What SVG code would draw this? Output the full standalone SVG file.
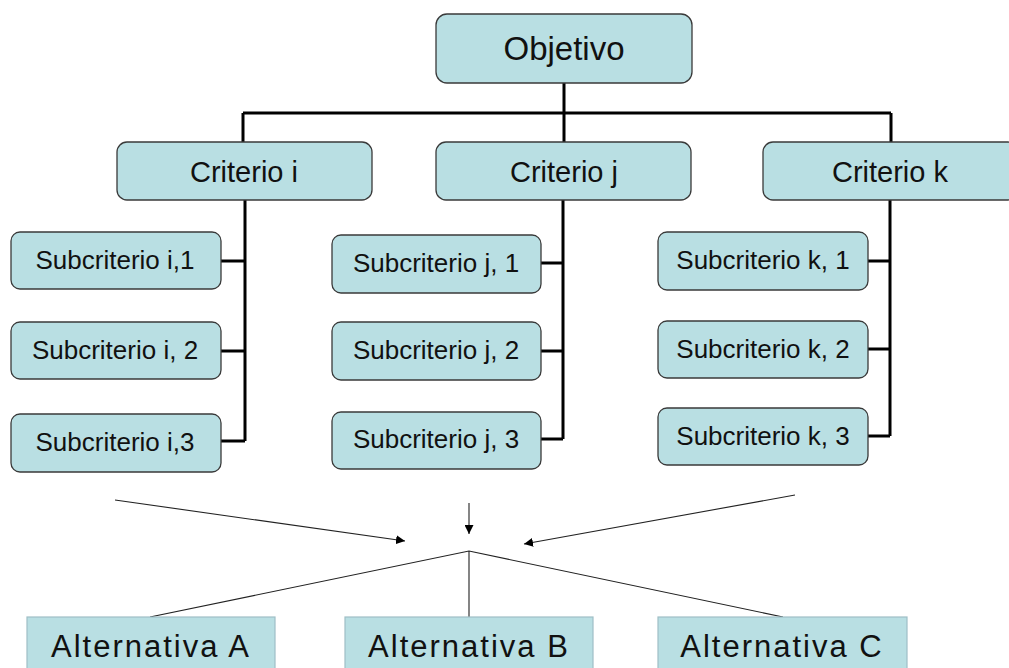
<svg xmlns="http://www.w3.org/2000/svg" width="1009" height="668" viewBox="0 0 1009 668">
<style>
.rb{fill:#b9dfe3;stroke:#3a3a3a;stroke-width:1.3}
.ab{fill:#b9dfe3;stroke:#9fbfc6;stroke-width:1.2}
.t{font-family:"Liberation Sans",Arial,sans-serif;fill:#111;text-anchor:middle}
.s{font-size:26px}
.c{font-size:29px}
.tree{fill:none;stroke:#000;stroke-width:3}
.thin{fill:none;stroke:#222;stroke-width:1.1}
</style>
<defs>
<marker id="ah" viewBox="0 0 10 10" refX="10" refY="5" markerWidth="9" markerHeight="9" markerUnits="userSpaceOnUse" orient="auto">
<path d="M0,0 L10,5 L0,10 z" fill="#000"/>
</marker>
</defs>
<g id="connectors">
<path class="tree" d="M564,83 V113 M243,113 H891 M243,113 V142 M564,113 V142 M891,113 V142"/>
<path class="tree" d="M245,200 V441 M221,261 H245 M221,351 H245 M221,441 H245"/>
<path class="tree" d="M563,200 V439 M541,263 H563 M541,351 H563 M541,439 H563"/>
<path class="tree" d="M890,200 V436 M868,261 H890 M868,349 H890 M868,436 H890"/>
<line class="thin" x1="115" y1="500" x2="405" y2="541" marker-end="url(#ah)"/>
<line class="thin" x1="469" y1="503" x2="469" y2="534" marker-end="url(#ah)"/>
<line class="thin" x1="795" y1="495" x2="524" y2="544" marker-end="url(#ah)"/>
<path class="thin" d="M150,617 L469,551 L783,617 M469,551 V617"/>
</g>
<g id="objetivo"><rect class="rb" x="436" y="14" width="256" height="69" rx="11"/><text class="t" x="564" y="60" font-size="33">Objetivo</text></g>
<g id="criterio-i"><rect class="rb" x="117" y="142" width="255" height="58" rx="10"/><text class="t c" x="244" y="182">Criterio i</text></g>
<g id="criterio-j"><rect class="rb" x="436" y="142" width="255" height="58" rx="10"/><text class="t c" x="564" y="182">Criterio j</text></g>
<g id="criterio-k"><rect class="rb" x="763" y="142" width="255" height="58" rx="10"/><text class="t c" x="890" y="182">Criterio k</text></g>
<g id="sub-i1"><rect class="rb" x="11" y="232" width="210" height="57" rx="9"/><text class="t s" x="115" y="269">Subcriterio i,1</text></g>
<g id="sub-i2"><rect class="rb" x="11" y="322" width="210" height="57" rx="9"/><text class="t s" x="115" y="359">Subcriterio i, 2</text></g>
<g id="sub-i3"><rect class="rb" x="11" y="414" width="210" height="58" rx="9"/><text class="t s" x="115" y="451">Subcriterio i,3</text></g>
<g id="sub-j1"><rect class="rb" x="332" y="235" width="209" height="58" rx="9"/><text class="t s" x="436" y="272">Subcriterio j, 1</text></g>
<g id="sub-j2"><rect class="rb" x="332" y="322" width="209" height="58" rx="9"/><text class="t s" x="436" y="359">Subcriterio j, 2</text></g>
<g id="sub-j3"><rect class="rb" x="332" y="412" width="209" height="57" rx="9"/><text class="t s" x="436" y="448">Subcriterio j, 3</text></g>
<g id="sub-k1"><rect class="rb" x="658" y="232" width="210" height="58" rx="9"/><text class="t s" x="763" y="269">Subcriterio k, 1</text></g>
<g id="sub-k2"><rect class="rb" x="658" y="321" width="210" height="57" rx="9"/><text class="t s" x="763" y="358">Subcriterio k, 2</text></g>
<g id="sub-k3"><rect class="rb" x="658" y="408" width="210" height="57" rx="9"/><text class="t s" x="763" y="445">Subcriterio k, 3</text></g>
<g id="alt-a"><rect class="ab" x="27" y="617" width="248" height="60"/><text class="t" x="151" y="657" font-size="31" letter-spacing="2">Alternativa A</text></g>
<g id="alt-b"><rect class="ab" x="345" y="617" width="248" height="60"/><text class="t" x="469" y="657" font-size="31" letter-spacing="2">Alternativa B</text></g>
<g id="alt-c"><rect class="ab" x="658" y="617" width="249" height="60"/><text class="t" x="782" y="657" font-size="31" letter-spacing="2">Alternativa C</text></g>
</svg>
